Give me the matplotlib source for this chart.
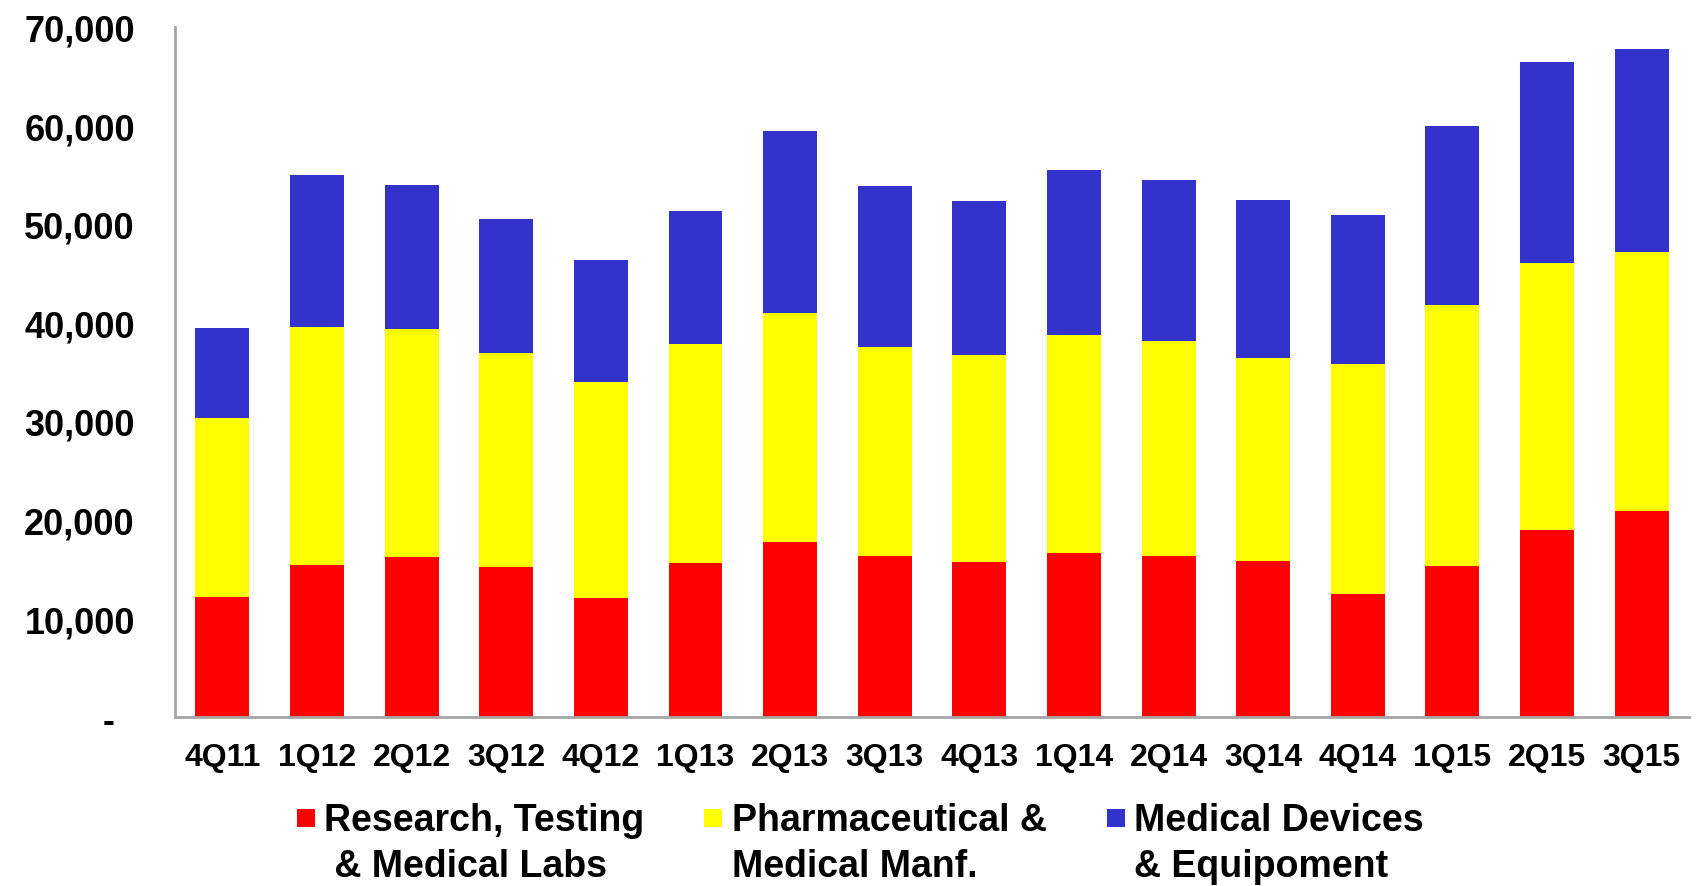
import matplotlib
matplotlib.use("Agg")
import matplotlib.pyplot as plt
from matplotlib.patches import Rectangle
from matplotlib.container import BarContainer
from matplotlib.legend_handler import HandlerPatch, update_from_first_child
from matplotlib.ticker import FuncFormatter

# ---- data ----
quarters = ["4Q11", "1Q12", "2Q12", "3Q12", "4Q12", "1Q13", "2Q13", "3Q13",
            "4Q13", "1Q14", "2Q14", "3Q14", "4Q14", "1Q15", "2Q15", "3Q15"]
research = [12200, 15400, 16200, 15200, 12100, 15600, 17800, 16300,
            15700, 16600, 16300, 15800, 12500, 15300, 19000, 20900]
pharma = [18200, 24200, 23200, 21700, 21900, 22300, 23200, 21300,
          21000, 22200, 21900, 20600, 23300, 26500, 27100, 26300]
devices = [9100, 15400, 14600, 13600, 12400, 13500, 18500, 16300,
           15700, 16700, 16300, 16100, 15200, 18200, 20400, 20600]
series_labels = ["Research, Testing\n & Medical Labs",
                 "Pharmaceutical &\nMedical Manf.",
                 "Medical Devices\n& Equipoment"]
colors = ["#FF0000", "#FFFF00", "#3333CC"]

plt.rcParams['font.family'] = ['Liberation Sans', 'DejaVu Sans']
plt.rcParams['font.weight'] = 'bold'

fig = plt.figure(figsize=(17, 8.87), dpi=100)
ax = fig.add_axes([0.103, 0.1905, 0.8905, 0.7775])

x = range(len(quarters))
bottom2 = [a + b for a, b in zip(research, pharma)]
b1 = ax.bar(x, research, width=0.57, color=colors[0])
b2 = ax.bar(x, pharma, width=0.57, bottom=research, color=colors[1])
b3 = ax.bar(x, devices, width=0.57, bottom=bottom2, color=colors[2])

ax.set_xlim(-0.5, len(quarters) - 0.5)
ax.set_ylim(0, 70000)
ax.set_yticks(range(0, 70001, 10000))
ax.yaxis.set_major_formatter(FuncFormatter(lambda v, p: "-  " if v == 0 else f"{int(v):,}"))
ax.set_xticks(list(x))
ax.set_xticklabels(quarters)

for s in ["top", "right"]:
    ax.spines[s].set_visible(False)
for s in ["left", "bottom"]:
    ax.spines[s].set_color("#A6A6A6")
    ax.spines[s].set_linewidth(2)

ax.tick_params(axis="y", length=0, pad=29, labelsize=26)
ax.tick_params(axis="x", length=0, pad=18, labelsize=23)
for t in ax.get_xticklabels() + ax.get_yticklabels():
    t.set_fontweight("bold")


def square_up(legend, orig_handle, xdescent, ydescent, width, height, fontsize):
    # square sits next to the first line of the 2-line label
    return Rectangle((-xdescent, 0.8 * fontsize), 0.48 * fontsize, 0.48 * fontsize)


leg = fig.legend([b1, b2, b3], series_labels, loc="upper center",
                 bbox_to_anchor=(0.506, 0.116), ncol=3, frameon=False,
                 handlelength=0.48, handleheight=0.45,
                 handletextpad=0.25, columnspacing=1.6, borderpad=0,
                 handler_map={BarContainer: HandlerPatch(patch_func=square_up,
                                                         update_func=update_from_first_child)},
                 prop={"weight": "bold", "size": 27})
for t in leg.get_texts():
    t.set_linespacing(1.38)

fig.savefig("out.png", dpi=100)
